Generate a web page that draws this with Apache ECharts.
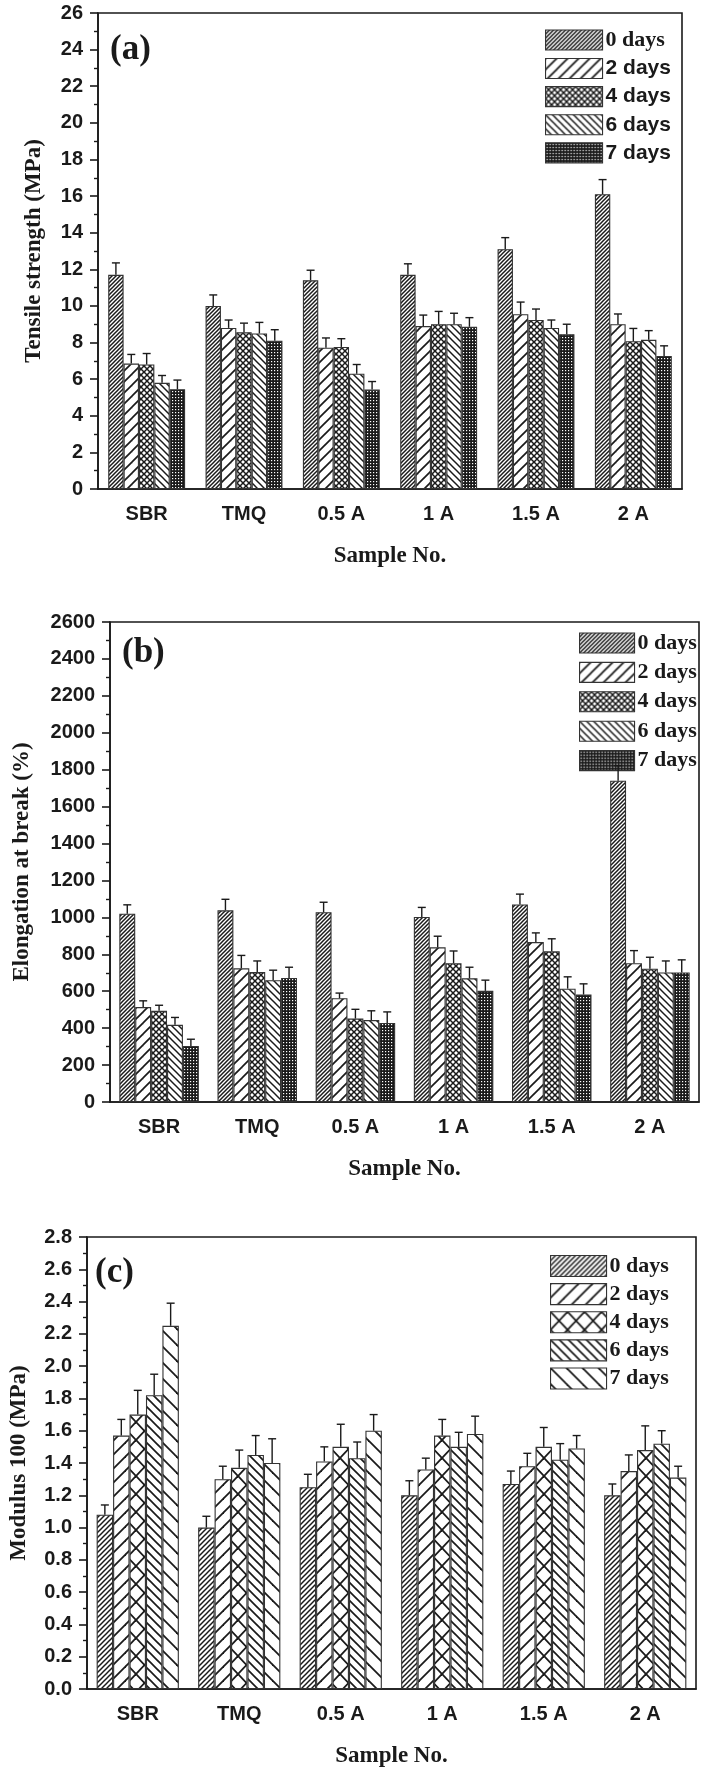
<!DOCTYPE html>
<html><head><meta charset="utf-8">
<script src="https://cdn.jsdelivr.net/npm/echarts@6/dist/echarts.min.js"></script>
<style>html,body{margin:0;padding:0;background:#fff}#c{width:702px;height:1772px}</style>
</head><body><div id="c"></div>
<script>
// ---------- data ----------
const categories = ['SBR', 'TMQ', '0.5 A', '1 A', '1.5 A', '2 A'];
const seriesNames = ['0 days', '2 days', '4 days', '6 days', '7 days'];

// (a) Tensile strength (MPa)
const tensile0 = [11.7, 10.0, 11.4, 11.7, 13.1, 16.1];
const tensile2 = [6.85, 8.8, 7.72, 8.9, 9.55, 9.0];
const tensile4 = [6.8, 8.56, 7.76, 9.0, 9.23, 8.07];
const tensile6 = [5.8, 8.5, 6.3, 9.0, 8.8, 8.15];
const tensile7 = [5.45, 8.1, 5.43, 8.86, 8.45, 7.27];
const tensileErr0 = [0.65, 0.6, 0.55, 0.6, 0.63, 0.8];
const tensileErr2 = [0.5, 0.43, 0.53, 0.6, 0.66, 0.56];
const tensileErr4 = [0.6, 0.5, 0.45, 0.7, 0.6, 0.7];
const tensileErr6 = [0.4, 0.6, 0.5, 0.6, 0.43, 0.5];
const tensileErr7 = [0.5, 0.6, 0.44, 0.5, 0.55, 0.55];

// (b) Elongation at break (%)
const elong0 = [1020, 1038, 1028, 1002, 1070, 1740];
const elong2 = [514, 724, 562, 838, 866, 752];
const elong4 = [494, 704, 452, 752, 816, 722];
const elong6 = [418, 660, 444, 670, 614, 702];
const elong7 = [304, 672, 428, 602, 582, 702];
const elongErr0 = [48, 60, 54, 52, 56, 82];
const elongErr2 = [34, 70, 28, 60, 50, 68];
const elongErr4 = [30, 60, 50, 66, 68, 62];
const elongErr6 = [40, 54, 50, 60, 64, 62];
const elongErr7 = [36, 58, 60, 58, 58, 68];

// (c) Modulus 100 (MPa)
const mod0 = [1.08, 1.0, 1.25, 1.2, 1.27, 1.2];
const mod2 = [1.57, 1.3, 1.41, 1.36, 1.38, 1.35];
const mod4 = [1.7, 1.37, 1.5, 1.57, 1.5, 1.48];
const mod6 = [1.82, 1.45, 1.43, 1.5, 1.42, 1.52];
const mod7 = [2.25, 1.4, 1.6, 1.58, 1.49, 1.31];
const modErr0 = [0.06, 0.07, 0.08, 0.09, 0.08, 0.07];
const modErr2 = [0.1, 0.08, 0.09, 0.07, 0.08, 0.1];
const modErr4 = [0.15, 0.11, 0.14, 0.1, 0.12, 0.15];
const modErr6 = [0.13, 0.12, 0.1, 0.09, 0.1, 0.08];
const modErr7 = [0.14, 0.15, 0.1, 0.11, 0.08, 0.07];

// ---------- styles ----------
const INK = '#1a1a1a';
const SANS = '"Liberation Sans", Arial, sans-serif';
const SERIF = '"Liberation Serif", "Times New Roman", serif';

function pattern(kind, w, h, lw) {
  const c = document.createElement('canvas');
  c.width = w; c.height = h;
  const g = c.getContext('2d');
  g.fillStyle = '#fff'; g.fillRect(0, 0, w, h);
  g.strokeStyle = INK; g.lineWidth = lw; g.lineCap = 'square';
  function fwd() { for (let k = -1; k <= 1; k++) { g.beginPath(); g.moveTo(k * w, h); g.lineTo(k * w + w, 0); g.stroke(); } }
  function back() { for (let k = -1; k <= 1; k++) { g.beginPath(); g.moveTo(k * w, 0); g.lineTo(k * w + w, h); g.stroke(); } }
  if (kind === 'fwd') fwd();
  else if (kind === 'back') back();
  else if (kind === 'cross') { fwd(); back(); }
  else if (kind === 'dots') {
    g.fillStyle = INK; g.fillRect(0, 0, w, h);
    g.fillStyle = '#fff';
    g.fillRect(1, 1, 1.2, 1.2);
  }
  return { image: c, repeat: 'repeat' };
}

const patternsAB = [
  pattern('fwd', 4, 4, 1.5),
  pattern('fwd', 11, 11, 1.7),
  pattern('cross', 6, 6, 1.5),
  pattern('back', 7, 7, 1.5),
  pattern('dots', 3, 3, 1)
];
const patternsC = [
  pattern('fwd', 5, 5, 1.5),
  pattern('fwd', 14, 14, 1.8),
  pattern('cross', 17, 18, 1.8),
  pattern('back', 9, 9, 1.7),
  pattern('back', 16, 16, 1.8)
];

// ---------- option ----------
const option = {
  animation: false,
  backgroundColor: '#fff',
  grid: [], xAxis: [], yAxis: [], series: [], legend: [], title: []
};

function addPanel(p) {
  const gi = option.grid.length;
  const key = p.key;
  option.grid.push({ left: p.left, top: p.top, width: p.width, height: p.height, show: true,
    borderColor: INK, borderWidth: 1.6, backgroundColor: 'transparent' });
  const xi = option.xAxis.length;
  option.xAxis.push({
    type: 'category', gridIndex: gi, data: categories, position: 'bottom',
    axisLine: { lineStyle: { color: INK, width: 1.6 } },
    axisTick: { alignWithLabel: true, length: 7, lineStyle: { color: INK, width: 1.6 } },
    axisLabel: { color: INK, fontFamily: SANS, fontWeight: 'bold', fontSize: 20, margin: 15 },
    name: 'Sample No.', nameLocation: 'middle', nameGap: 56,
    nameTextStyle: { color: INK, fontFamily: SERIF, fontWeight: 'bold', fontSize: 23 }
  });
  option.xAxis.push({
    type: 'category', gridIndex: gi, data: categories, position: 'bottom',
    axisLine: { show: false }, axisLabel: { show: false },
    axisTick: { length: 4, lineStyle: { color: INK, width: 1.4 } }
  });
  const yi = option.yAxis.length;
  option.yAxis.push({
    type: 'value', gridIndex: gi, min: 0, max: p.max, interval: p.interval,
    axisLine: { show: true, lineStyle: { color: INK, width: 1.6 } },
    axisTick: { show: true, length: 8, lineStyle: { color: INK, width: 1.6 } },
    minorTick: { show: true, splitNumber: 2, length: 4, lineStyle: { color: INK, width: 1.4 } },
    splitLine: { show: false },
    axisLabel: { color: INK, fontFamily: SANS, fontWeight: 'bold', fontSize: 20, margin: 15,
      formatter: p.fmt },
    name: p.yName, nameLocation: 'middle', nameGap: p.nameGap,
    nameTextStyle: { color: INK, fontFamily: SERIF, fontWeight: 'bold', fontSize: 23 }
  });
  const gapFrac = p.gap;
  p.values.forEach((vals, si) => {
    option.series.push({
      type: 'bar', name: key + '|' + seriesNames[si], xAxisIndex: xi, yAxisIndex: yi,
      data: vals, barGap: '0%', barCategoryGap: (gapFrac * 100) + '%',
      itemStyle: { color: p.patterns[si], borderColor: '#333', borderWidth: 1.1 },
      emphasis: { disabled: true }
    });
  });
  p.values.forEach((vals, si) => {
    const errs = p.errors[si];
    option.series.push({
      type: 'custom', name: 'err-' + gi + '-' + si, xAxisIndex: xi, yAxisIndex: yi,
      silent: true, z: 5,
      data: vals.map((v, i) => [i, v, errs[i]]),
      renderItem: function (params, api) {
        const ci = api.value(0), v = api.value(1), e = api.value(2);
        const base = api.coord([ci, v]);
        const top = api.coord([ci, v + e]);
        const catW = api.size([1, 0])[0];
        const bw = catW * (1 - gapFrac) / 5;
        const cx = base[0] + (si - 2) * bw;
        const st = { stroke: INK, lineWidth: 1.4 };
        return { type: 'group', children: [
          { type: 'line', shape: { x1: cx, y1: base[1], x2: cx, y2: top[1] }, style: st },
          { type: 'line', shape: { x1: cx - 4, y1: top[1], x2: cx + 4, y2: top[1] }, style: st }
        ] };
      }
    });
  });
  option.legend.push({
    orient: 'vertical', left: p.legLeft, top: p.legTop,
    itemWidth: p.legW, itemHeight: p.legH, itemGap: p.legGap, icon: 'rect',
    selectedMode: false,
    formatter: n => n.split('|')[1],
    itemStyle: { borderColor: '#333', borderWidth: 1.1 },
    textStyle: { color: INK, fontFamily: p.legFont, fontWeight: 'bold', fontSize: p.legSize, lineHeight: p.legH, padding: [0, 0, 0, -2] },
    data: seriesNames.map((n, i) => (p.legFirstSerif && i === 0)
      ? { name: key + '|' + n, textStyle: { fontFamily: SERIF, fontSize: p.legSize + 1 } }
      : { name: key + '|' + n })
  });
  option.title.push({
    text: p.label, left: p.labLeft, top: p.labTop,
    textStyle: { color: INK, fontFamily: SERIF, fontWeight: 'bold', fontSize: 35 }
  });
}

addPanel({
  key: 'a',
  left: 98, top: 13, width: 584, height: 476, max: 26, interval: 2,
  fmt: v => String(v), yName: 'Tensile strength (MPa)', nameGap: 52, gap: 0.21,
  values: [tensile0, tensile2, tensile4, tensile6, tensile7],
  errors: [tensileErr0, tensileErr2, tensileErr4, tensileErr6, tensileErr7],
  patterns: patternsAB,
  legLeft: 540, legTop: 24, legW: 57, legH: 20, legGap: 7, legFont: SANS, legSize: 21, legFirstSerif: true,
  label: '(a)', labLeft: 105, labTop: 27
});
addPanel({
  key: 'b',
  left: 110, top: 622, width: 589, height: 480, max: 2600, interval: 200,
  fmt: v => String(v), yName: 'Elongation at break (%)', nameGap: 76, gap: 0.19,
  values: [elong0, elong2, elong4, elong6, elong7],
  errors: [elongErr0, elongErr2, elongErr4, elongErr6, elongErr7],
  patterns: patternsAB,
  legLeft: 574, legTop: 627, legW: 55, legH: 20, legGap: 7.4, legFont: SERIF, legSize: 22, legFirstSerif: false,
  label: '(b)', labLeft: 117, labTop: 630
});
addPanel({
  key: 'c',
  left: 87, top: 1237, width: 609, height: 452, max: 2.8, interval: 0.2,
  fmt: v => v.toFixed(1), yName: 'Modulus 100 (MPa)', nameGap: 56, gap: 0.19,
  values: [mod0, mod2, mod4, mod6, mod7],
  errors: [modErr0, modErr2, modErr4, modErr6, modErr7],
  patterns: patternsC,
  legLeft: 545, legTop: 1250, legW: 56, legH: 21, legGap: 6, legFont: SERIF, legSize: 22, legFirstSerif: false,
  label: '(c)', labLeft: 90, labTop: 1250
});

const chart = echarts.init(document.getElementById('c'), null, { renderer: 'canvas' });
chart.setOption(option);
</script>
</body></html>
